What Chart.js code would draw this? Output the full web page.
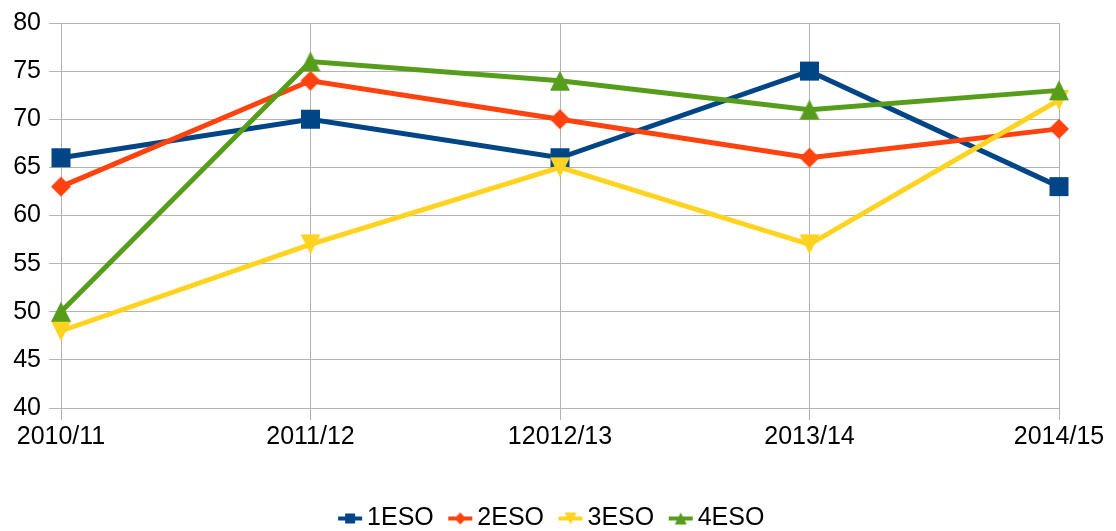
<!DOCTYPE html>
<html><head><meta charset="utf-8">
<script src="https://cdn.jsdelivr.net/npm/chart.js@4/dist/chart.umd.min.js"></script>
<style>html,body{margin:0;padding:0;background:#fff;overflow:hidden;width:1116px;height:531px}#wrap{width:1116px;height:531px;overflow:hidden}</style>
</head><body><div id="wrap"><canvas id="c" width="1116" height="541"></canvas></div>
<script>
const categories = ['2010/11', '2011/12', '12012/13', '2013/14', '2014/15'];
const seriesNames = ['1ESO', '2ESO', '3ESO', '4ESO'];
const eso1 = [66, 70, 66, 75, 63];
const eso2 = [63, 74, 70, 66, 69];
const eso3 = [48, 57, 65, 57, 72];
const eso4 = [50, 76, 74, 71, 73];
const yTicks = [40, 45, 50, 55, 60, 65, 70, 75, 80];

const seriesValues = [eso1, eso2, eso3, eso4];
const colors = ['#004586', '#ff420e', '#ffd320', '#579d1c'];
const shapes = ['square', 'diamond', 'down', 'up'];
const markerSizes = [19, 20, 20, 20];
const legendMarkerSizes = [10, 12, 12, 12];
const FONT = '"Liberation Sans", Arial, sans-serif';
const FS = 25;

function drawShape(ctx, shape, cx, cy, s) {
  const h = s / 2;
  ctx.beginPath();
  if (shape === 'square') ctx.rect(cx - h, cy - h, s, s);
  else if (shape === 'diamond') { ctx.moveTo(cx, cy - h); ctx.lineTo(cx + h, cy); ctx.lineTo(cx, cy + h); ctx.lineTo(cx - h, cy); ctx.closePath(); }
  else if (shape === 'up') { ctx.moveTo(cx, cy - h); ctx.lineTo(cx + h, cy + h); ctx.lineTo(cx - h, cy + h); ctx.closePath(); }
  else { ctx.moveTo(cx - h, cy - h); ctx.lineTo(cx + h, cy - h); ctx.lineTo(cx, cy + h); ctx.closePath(); }
  ctx.fill();
}
function markerCanvas(i) {
  const s = markerSizes[i];
  const n = s + 2;
  const c = document.createElement('canvas');
  c.width = n; c.height = n;
  const x = c.getContext('2d');
  x.fillStyle = colors[i];
  drawShape(x, shapes[i], n / 2, n / 2, s);
  return c;
}
function legendCanvas(i) {
  const c = document.createElement('canvas');
  c.width = 64; c.height = 16;
  const x = c.getContext('2d');
  x.strokeStyle = colors[i];
  x.lineWidth = 4;
  x.beginPath(); x.moveTo(30, 8); x.lineTo(54, 8); x.stroke();
  x.fillStyle = colors[i];
  drawShape(x, shapes[i], 42, 8, legendMarkerSizes[i]);
  return c;
}
const legendIcons = seriesNames.map((_, i) => legendCanvas(i));

const datasets = seriesNames.map((name, i) => ({
  label: name,
  data: seriesValues[i],
  borderColor: colors[i],
  backgroundColor: colors[i],
  borderWidth: 5,
  pointStyle: markerCanvas(i),
  pointRadius: 10,
  pointHoverRadius: 10,
  tension: 0,
  order: seriesNames.length - i
}));

new Chart(document.getElementById('c'), {
  type: 'line',
  data: { labels: categories, datasets },
  options: {
    responsive: false,
    animation: false,
    events: [],
    layout: { padding: { left: 0, right: 26, top: 21, bottom: 0 } },
    scales: {
      x: {
        type: 'category',
        offset: false,
        grid: { color: '#b3b3b3', tickLength: 12, offset: false },
        border: { color: '#b3b3b3' },
        ticks: { color: '#000', font: { family: FONT, size: FS }, padding: 2, maxRotation: 0, autoSkip: false },
        afterFit(s) { s.height = 541 - 408 - s.chart.legend.height; }
      },
      y: {
        min: 40, max: 80,
        afterBuildTicks(s) { s.ticks = yTicks.map(v => ({ value: v })); },
        grid: { color: '#b3b3b3', tickLength: 12 },
        border: { color: '#b3b3b3' },
        ticks: { color: '#000', font: { family: FONT, size: FS }, padding: 8 },
        afterFit(s) { s.width = 61; }
      },
      yRightSpace: {
        position: 'right',
        display: true,
        grid: { display: false, drawTicks: false },
        border: { display: false },
        ticks: { display: false },
        afterFit(s) { s.width = 31; }
      }
    },
    plugins: {
      tooltip: { enabled: false },
      legend: {
        position: 'bottom',
        labels: {
          usePointStyle: true,
          pointStyleWidth: 29,
          padding: 2,
          color: '#000',
          font: { family: FONT, size: FS },
          generateLabels() {
            return seriesNames.map((n, i) => ({
              text: n, pointStyle: legendIcons[i], fillStyle: colors[i], strokeStyle: colors[i],
              lineWidth: 0, hidden: false, datasetIndex: i, fontColor: '#000'
            }));
          }
        }
      }
    }
  }
});
</script></body></html>
